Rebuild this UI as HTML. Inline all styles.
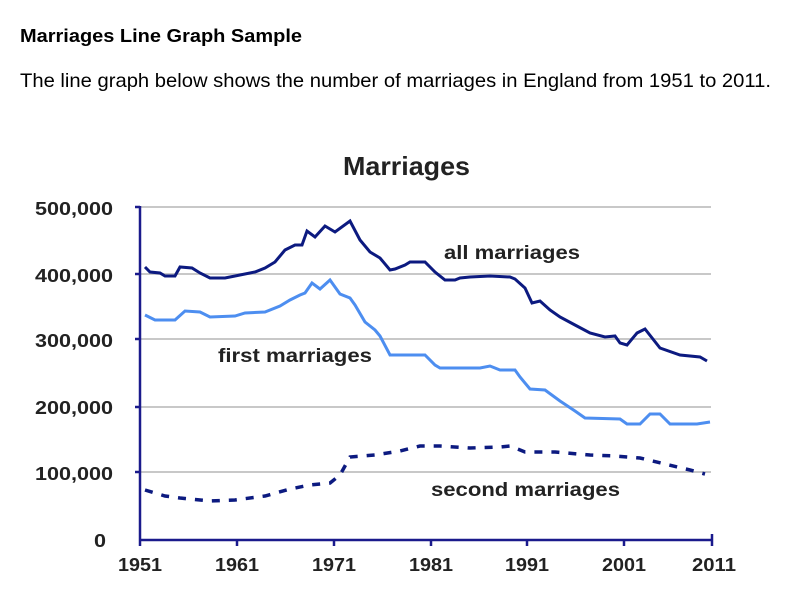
<!DOCTYPE html>
<html><head><meta charset="utf-8"><style>
body{margin:0;background:#fff;width:799px;height:601px;overflow:hidden;font-family:"Liberation Sans",Arial,sans-serif}
</style></head><body>
<svg width="799" height="601" xmlns="http://www.w3.org/2000/svg" style="position:absolute;left:0;top:0;font-family:'Liberation Sans',Arial,sans-serif">
<text x="20" y="42" font-size="18" font-weight="bold" fill="#000" textLength="282" lengthAdjust="spacingAndGlyphs">Marriages Line Graph Sample</text>
<text x="20" y="87" font-size="19.5" fill="#000" textLength="751" lengthAdjust="spacingAndGlyphs">The line graph below shows the number of marriages in England from 1951 to 2011.</text>
<text x="343" y="175" font-size="26" font-weight="bold" fill="#222" textLength="127" lengthAdjust="spacingAndGlyphs">Marriages</text>
<g stroke="#c8c8c8" stroke-width="2">
<line x1="140" y1="207" x2="711" y2="207"/><line x1="140" y1="274" x2="711" y2="274"/>
<line x1="140" y1="339" x2="711" y2="339"/><line x1="140" y1="407" x2="711" y2="407"/>
<line x1="140" y1="472" x2="711" y2="472"/>
</g>
<g stroke="#1a1a8c" stroke-width="2.5">
<line x1="140" y1="206" x2="140" y2="540"/><line x1="139" y1="540" x2="712" y2="540"/>
<line x1="135" y1="207" x2="140" y2="207"/><line x1="135" y1="274" x2="140" y2="274"/><line x1="135" y1="339" x2="140" y2="339"/><line x1="135" y1="407" x2="140" y2="407"/><line x1="135" y1="472" x2="140" y2="472"/>
<line x1="140" y1="540" x2="140" y2="546"/><line x1="237" y1="540" x2="237" y2="546"/><line x1="334" y1="540" x2="334" y2="546"/><line x1="431" y1="540" x2="431" y2="546"/><line x1="527" y1="540" x2="527" y2="546"/><line x1="624" y1="540" x2="624" y2="546"/><line x1="712" y1="534" x2="712" y2="546"/>
</g>
<g font-size="18" font-weight="bold" fill="#222" lengthAdjust="spacingAndGlyphs">
<text x="35" y="215" textLength="78" lengthAdjust="spacingAndGlyphs">500,000</text>
<text x="35" y="282" textLength="78" lengthAdjust="spacingAndGlyphs">400,000</text>
<text x="35" y="347" textLength="78" lengthAdjust="spacingAndGlyphs">300,000</text>
<text x="35" y="414" textLength="78" lengthAdjust="spacingAndGlyphs">200,000</text>
<text x="35" y="480" textLength="78" lengthAdjust="spacingAndGlyphs">100,000</text>
<text x="94" y="547" textLength="12" lengthAdjust="spacingAndGlyphs">0</text>
</g>
<g font-size="18" font-weight="bold" fill="#222">
<text x="118" y="571" textLength="44" lengthAdjust="spacingAndGlyphs">1951</text>
<text x="215" y="571" textLength="44" lengthAdjust="spacingAndGlyphs">1961</text>
<text x="312" y="571" textLength="44" lengthAdjust="spacingAndGlyphs">1971</text>
<text x="409" y="571" textLength="44" lengthAdjust="spacingAndGlyphs">1981</text>
<text x="505" y="571" textLength="44" lengthAdjust="spacingAndGlyphs">1991</text>
<text x="602" y="571" textLength="44" lengthAdjust="spacingAndGlyphs">2001</text>
<text x="692" y="571" textLength="44" lengthAdjust="spacingAndGlyphs">2011</text>
</g>
<polyline fill="none" stroke="#0c1a80" stroke-width="3" points="145,267 150,272 160,273 165,276 175,276 180,267 192,268 200,273 210,278 225,278 235,276 255,272 265,268 275,262 285,250 295,245 302,245 307,231 315,237 325,226 335,232 350,221 360,240 370,252 380,258 390,270 395,269 405,265 410,262 425,262 435,272 445,280 455,280 460,278 470,277 490,276 510,277 515,279 525,288 532,303 540,301 550,310 560,317 575,325 590,333 605,337 615,336 620,343 627,345 637,333 645,329 660,348 680,355 700,357 707,361"/>
<polyline fill="none" stroke="#4d8ef0" stroke-width="3" points="145,315 155,320 175,320 185,311 200,312 210,317 235,316 245,313 265,312 280,306 290,300 300,295 305,293 312,283 320,289 330,280 340,294 350,298 355,305 365,322 375,330 380,336 390,355 425,355 435,365 440,368 480,368 490,366 500,370 515,370 520,377 530,389 545,390 560,401 575,411 585,418 620,419 627,424 640,424 650,414 660,414 670,424 697,424 710,422"/>
<polyline fill="none" stroke="#0c1a80" stroke-width="3.5" stroke-dasharray="8 9" points="145,490 165,496 180,498 210,501 235,500 265,496 290,489 310,485 330,483 340,475 350,457 375,455 400,451 420,446 440,446 470,448 500,447 510,446 525,452 555,452 590,455 615,456 640,458 665,464 690,470 705,474"/>
<g font-size="19" font-weight="bold" fill="#222">
<text x="444" y="259" textLength="136" lengthAdjust="spacingAndGlyphs">all marriages</text>
<text x="218" y="362" textLength="154" lengthAdjust="spacingAndGlyphs">first marriages</text>
<text x="431" y="496" textLength="189" lengthAdjust="spacingAndGlyphs">second marriages</text>
</g>
</svg>
</body></html>
